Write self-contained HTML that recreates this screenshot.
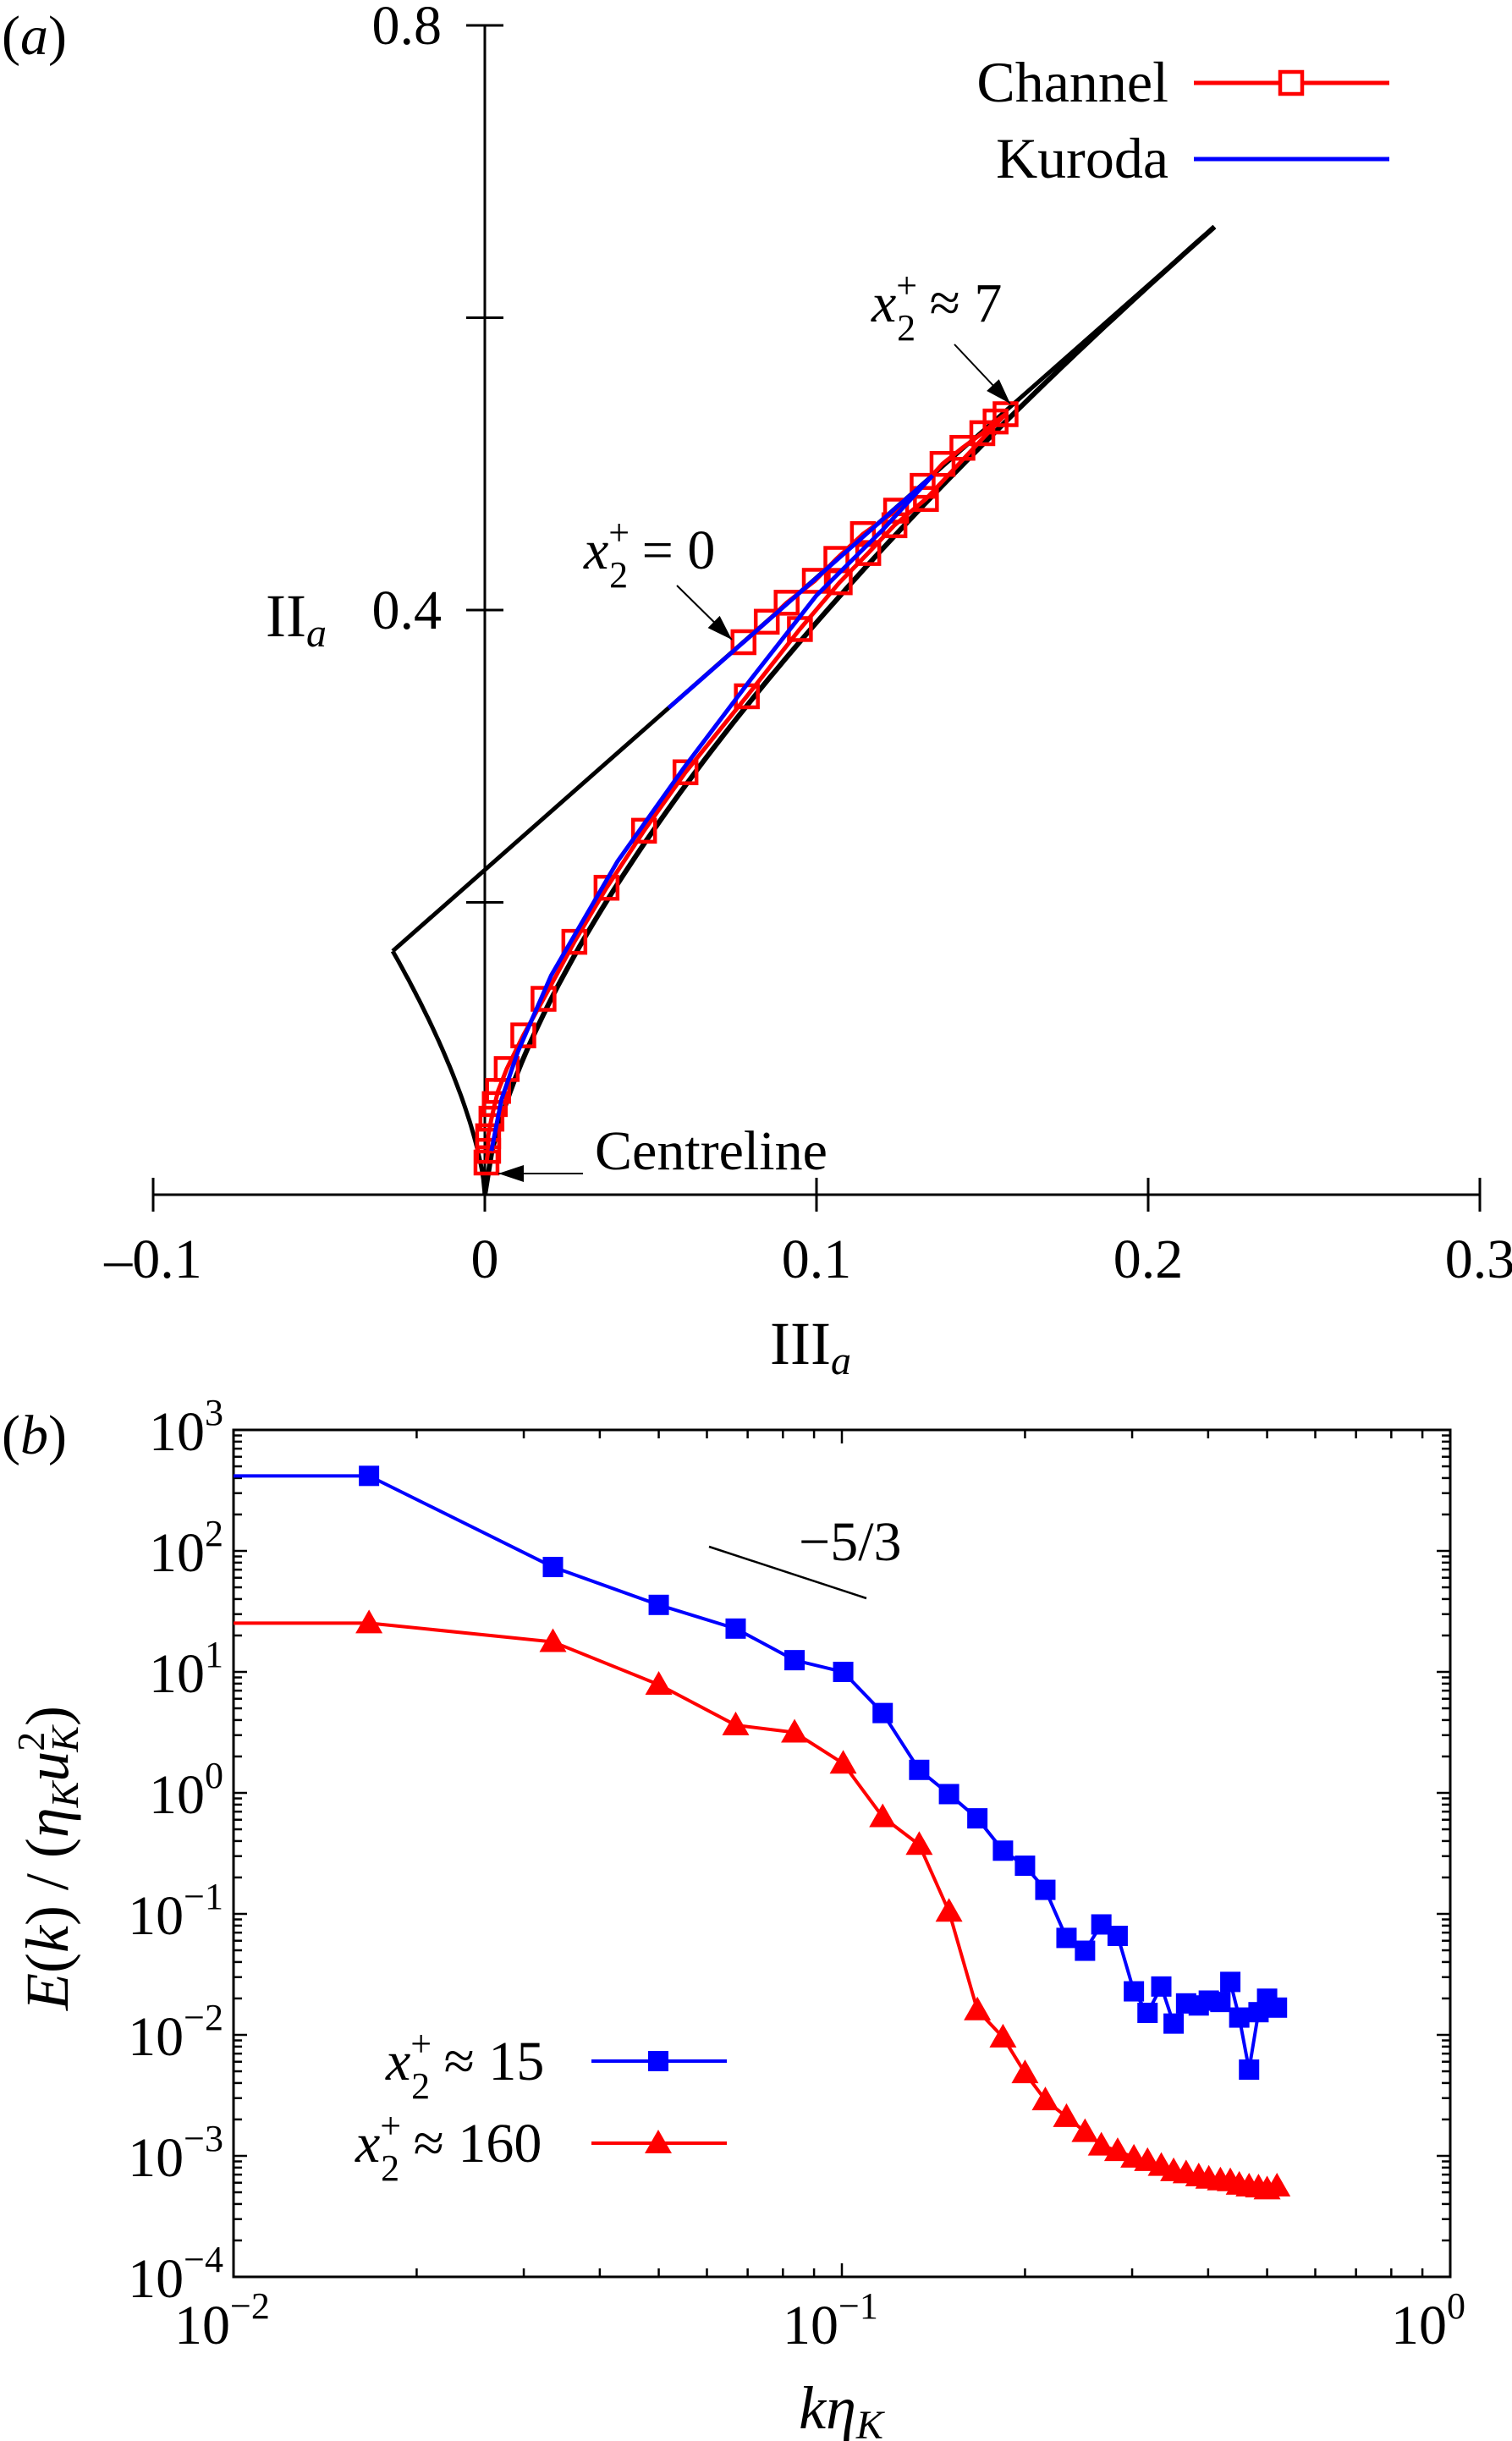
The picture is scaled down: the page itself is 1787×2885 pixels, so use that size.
<!DOCTYPE html>
<html><head><meta charset="utf-8"><style>
html,body{margin:0;padding:0;background:#fff}
svg{display:block;font-family:"Liberation Serif","Times New Roman",serif}
text{font-family:"Liberation Serif","Times New Roman",serif}
</style></head><body>
<svg id="fig" xmlns="http://www.w3.org/2000/svg" width="1787" height="2885" viewBox="0 0 1787 2885">
<rect width="1787" height="2885" fill="#fff"/>
<g id="pa"></g>
<g id="pb"></g>
</svg>
<script>
// ---------- Panel (a) data ----------
const chanIII = [0.078,0.085,0.091,0.0995,0.106,0.114,0.124,0.132,0.138,0.144,0.150,0.154,0.157,0.133,0.1235,0.1156,0.107,0.095,0.079,0.0605,0.048,0.0367,0.027,0.0177,0.0116,0.0066,0.004,0.003,0.002,0.001,0.001,0.0005];
const chanII  = [0.378,0.392,0.405,0.420,0.435,0.452,0.468,0.485,0.500,0.511,0.521,0.529,0.534,0.476,0.458,0.439,0.419,0.387,0.341,0.289,0.249,0.210,0.173,0.134,0.109,0.086,0.071,0.062,0.052,0.040,0.030,0.022];
const kurIII = [0.0554,0.08,0.1,0.12,0.135,0.12,0.1,0.08,0.06,0.04,0.02,0.01,0.005,0.002];
const kurII  = [0.333,0.382,0.422,0.462,0.492,0.455,0.41,0.352,0.292,0.228,0.15,0.098,0.065,0.03];
const aXTicks = [-0.1,0,0.1,0.2,0.3];
const aXLabels = ["\u20130.1","0","0.1","0.2","0.3"];
const aYTicks = [0.2,0.4,0.6,0.8];
// ---------- Panel (b) data ----------
const kVals = [0.0167,0.0335,0.050,0.0669,0.0836,0.1005,0.1167,0.134,0.150,0.167,0.184,0.200,0.216,0.234,0.251,0.267,0.284,0.302,0.318,0.335,0.351,0.368,0.386,0.401,0.419,0.435,0.450,0.467,0.484,0.500,0.519];
const e15 = [417,73.6,35.8,22.8,12.5,10.0,4.57,1.55,0.977,0.616,0.333,0.25,0.158,0.0633,0.0496,0.0818,0.0658,0.0229,0.0152,0.0251,0.0124,0.0182,0.0175,0.0192,0.0187,0.0274,0.0139,0.00516,0.0154,0.0199,0.0168];
const e160 = [25.3,17.7,7.85,3.63,3.16,1.75,0.632,0.373,0.1045,0.016,0.00955,0.00484,0.00289,0.0021,0.00158,0.00122,0.0011,0.00097,0.00091,0.00083,0.00075,0.00072,0.00068,0.00065,0.00063,0.00062,0.00058,0.00056,0.00055,0.00053,0.00056];
const bXExp = [-2,-1,0];
const bYExp = [3,2,1,0,-1,-2,-3,-4];

const NS="http://www.w3.org/2000/svg";
function mk(parent,tag,attrs,text){const e=document.createElementNS(NS,tag);for(const k in attrs)e.setAttribute(k,attrs[k]);if(text!==undefined)e.textContent=text;parent.appendChild(e);return e;}

// ================= Panel A =================
const pa=document.getElementById('pa');
const ax=v=>573+v*3920, ay=v=>1412-v*1727.5;
let e;
e=mk(pa,'line',{x1:ax(-0.1),y1:ay(0),x2:ax(0.3),y2:ay(0),stroke:'#000','stroke-width':3});

e=mk(pa,'line',{x1:ax(0),y1:ay(0),x2:ax(0),y2:ay(0.8),stroke:'#000','stroke-width':3});

aXTicks.forEach((t,i)=>{
  const l=mk(pa,'line',{x1:ax(t),y1:ay(0)-20,x2:ax(t),y2:ay(0)+20,stroke:'#000','stroke-width':3});
  
  const tx=mk(pa,'text',{x:ax(t),y:1510,'font-size':66,'text-anchor':'middle'},aXLabels[i]);
  
});
aYTicks.forEach(t=>{
  const l=mk(pa,'line',{x1:ax(0)-22,y1:ay(t),x2:ax(0)+22,y2:ay(t),stroke:'#000','stroke-width':3});
  
});
[[0.8,'0.8'],[0.4,'0.4']].forEach(([t,s])=>{
  const tx=mk(pa,'text',{x:522,y:ay(t)+22,'font-size':66,'text-anchor':'end'},s);
  
});
e=mk(pa,'text',{x:314,y:752,'font-size':72});

mk(e,'tspan',{},'II');mk(e,'tspan',{'font-style':'italic','font-size':48,dy:12},'a');
e=mk(pa,'text',{x:910,y:1612,'font-size':72});

mk(e,'tspan',{},'III');mk(e,'tspan',{'font-style':'italic','font-size':48,dy:12},'a');
e=mk(pa,'text',{x:2,y:64,'font-size':66});

mk(e,'tspan',{},'(');mk(e,'tspan',{'font-style':'italic'},'a');mk(e,'tspan',{},')');
let d='';
for(let i=0;i<=60;i++){const t=-1/36*i/60;const II=6*Math.pow(Math.abs(t)/6,2/3);d+=(i?'L':'M')+ax(t).toFixed(1)+','+ay(II).toFixed(1);}
e=mk(pa,'path',{d:d,fill:'none',stroke:'#000','stroke-width':5});

d='';
for(let i=0;i<=100;i++){const t=0.22*i/100;const II=6*Math.pow(t/6,2/3);d+=(i?'L':'M')+ax(t).toFixed(1)+','+ay(II).toFixed(1);}
e=mk(pa,'path',{d:d,fill:'none',stroke:'#000','stroke-width':6});

e=mk(pa,'line',{x1:ax(-1/36),y1:ay(1/6),x2:ax(0.22),y2:ay(2/9+0.44),stroke:'#000','stroke-width':5});

e=mk(pa,'polyline',{points:chanIII.map((v,i)=>ax(v)+','+ay(chanII[i])).join(' '),fill:'none',stroke:'#f00','stroke-width':5});

chanIII.forEach((v,i)=>{const s=mk(pa,'rect',{x:ax(v)-13,y:ay(chanII[i])-13,width:26,height:26,fill:'none',stroke:'#f00','stroke-width':4.5});
  });
e=mk(pa,'polyline',{points:kurIII.map((v,i)=>ax(v)+','+ay(kurII[i])).join(' '),fill:'none',stroke:'#00f','stroke-width':5});

function arrow(x1,y1,x2,y2,name){const g=mk(pa,'g',{});
  mk(g,'line',{x1:x1,y1:y1,x2:x2,y2:y2,stroke:'#000','stroke-width':2});
  const a=Math.atan2(y2-y1,x2-x1),L=30,W=10;
  const bx=x2-L*Math.cos(a),by=y2-L*Math.sin(a);
  mk(g,'polygon',{points:`${x2},${y2} ${bx-W*Math.sin(a)},${by+W*Math.cos(a)} ${bx+W*Math.sin(a)},${by-W*Math.cos(a)}`,fill:'#000'});}
arrow(1128,407,1194,477,'arrow-x2-7');
arrow(800,692,865,756,'arrow-x2-0');
arrow(689,1387,589,1387,'arrow-centreline');
function xlab(parent,x,y,rest,name){const t=mk(parent,'text',{x:x,y:y,'font-size':66});
  mk(t,'tspan',{'font-style':'italic'},'x');mk(t,'tspan',{'font-size':44,dy:-28},'+');mk(t,'tspan',{'font-size':44,dx:-24,dy:50},'2');mk(t,'tspan',{dy:-22},rest);return t;}
xlab(pa,1030,380,' \u2248 7','annotation-x2-7');
xlab(pa,690,672,' = 0','annotation-x2-0');
e=mk(pa,'text',{x:703,y:1382,'font-size':66},'Centreline');

e=mk(pa,'g',{});
mk(e,'text',{x:1381,y:120,'font-size':68,'text-anchor':'end'},'Channel');
mk(e,'line',{x1:1411,y1:98,x2:1642,y2:98,stroke:'#f00','stroke-width':5});
mk(e,'rect',{x:1513,y:85,width:26,height:26,fill:'#fff',stroke:'#f00','stroke-width':4.5});
e=mk(pa,'g',{});
mk(e,'text',{x:1381,y:210,'font-size':68,'text-anchor':'end'},'Kuroda');
mk(e,'line',{x1:1411,y1:188,x2:1642,y2:188,stroke:'#00f','stroke-width':5});

// ================= Panel B =================
const pb=document.getElementById('pb');
const L0=276,R0=1714,T0=1690,B0=2691;
const bx=k=>L0+(Math.log10(k)+2)*(R0-L0)/2, by=E=>T0+(3-Math.log10(E))*(B0-T0)/7;
e=mk(pb,'rect',{x:L0,y:T0,width:R0-L0,height:B0-T0,fill:'none',stroke:'#000','stroke-width':3});

for(let dcd=-2;dcd<0;dcd++){for(let m=1;m<10;m++){const k=m*Math.pow(10,dcd);const x=bx(k);const len=m===1?16:10;
  const t1=mk(pb,'line',{x1:x,y1:B0,x2:x,y2:B0-len,stroke:'#000','stroke-width':2.5});
  const t2=mk(pb,'line',{x1:x,y1:T0,x2:x,y2:T0+len,stroke:'#000','stroke-width':2.5});}}
bXExp.forEach(p=>{const t=mk(pb,'text',{x:bx(Math.pow(10,p))-70,y:2770,'font-size':66});
  
  mk(t,'tspan',{},'10');mk(t,'tspan',{'font-size':44,dy:-30},(p<0?'\u2212':'')+Math.abs(p));});
for(let dcd=-4;dcd<3;dcd++){for(let m=1;m<10;m++){const E=m*Math.pow(10,dcd);const y=by(E);const len=m===1?16:10;
  const t1=mk(pb,'line',{x1:L0,y1:y,x2:L0+len,y2:y,stroke:'#000','stroke-width':2.5});
  const t2=mk(pb,'line',{x1:R0,y1:y,x2:R0-len,y2:y,stroke:'#000','stroke-width':2.5});}}
bYExp.forEach(p=>{const t=mk(pb,'text',{x:264,y:by(Math.pow(10,p))+24,'font-size':66,'text-anchor':'end'});
  
  mk(t,'tspan',{},'10');
  mk(t,'tspan',{'font-size':44,dy:-30},(p<0?'\u2212':'')+Math.abs(p));});
e=mk(pb,'text',{x:994,y:2870,'font-size':72,'text-anchor':'middle'});

mk(e,'tspan',{'font-style':'italic'},'k\u03B7');mk(e,'tspan',{'font-style':'italic','font-size':48,dy:12},'K');
e=mk(pb,'text',{x:0,y:0,'font-size':72,'text-anchor':'middle',transform:'translate(80,2196) rotate(-90)'});

mk(e,'tspan',{'font-style':'italic'},'E');mk(e,'tspan',{},'(');mk(e,'tspan',{'font-style':'italic'},'k');mk(e,'tspan',{},') / (');
mk(e,'tspan',{'font-style':'italic'},'\u03B7');mk(e,'tspan',{'font-style':'italic','font-size':46,dy:12},'K');
mk(e,'tspan',{'font-style':'italic',dy:-12},'u');mk(e,'tspan',{'font-size':46,dy:-28},'2');mk(e,'tspan',{'font-style':'italic','font-size':46,dx:-24,dy:40},'K');mk(e,'tspan',{dy:-12},')');
e=mk(pb,'text',{x:2,y:1718,'font-size':66});

mk(e,'tspan',{},'(');mk(e,'tspan',{'font-style':'italic'},'b');mk(e,'tspan',{},')');
e=mk(pb,'line',{x1:838,y1:1828,x2:1024,y2:1889,stroke:'#000','stroke-width':2.5});

e=mk(pb,'text',{x:944,y:1844,'font-size':66},'\u22125/3');

function tri(g,x,y,c){return mk(g,'polygon',{points:`${x},${y-16} ${x-16},${y+12} ${x+16},${y+12}`,fill:c});}
e=mk(pb,'polyline',{points:[L0+','+by(e15[0])].concat(kVals.map((k,i)=>bx(k)+','+by(e15[i]))).join(' '),fill:'none',stroke:'#00f','stroke-width':4});

kVals.forEach((k,i)=>{const s=mk(pb,'rect',{x:bx(k)-12,y:by(e15[i])-12,width:24,height:24,fill:'#00f'});
  });
e=mk(pb,'polyline',{points:[L0+','+by(e160[0])].concat(kVals.map((k,i)=>bx(k)+','+by(e160[i]))).join(' '),fill:'none',stroke:'#f00','stroke-width':4});

kVals.forEach((k,i)=>{const s=tri(pb,bx(k),by(e160[i]),'#f00');
  });
e=mk(pb,'g',{});
xlab(e,456,2458,' \u2248 15','legend-label-x2-15');
mk(e,'line',{x1:699,y1:2436,x2:859,y2:2436,stroke:'#00f','stroke-width':4});
mk(e,'rect',{x:766,y:2424,width:24,height:24,fill:'#00f'});
e=mk(pb,'g',{});
xlab(e,420,2555,' \u2248 160','legend-label-x2-160');
mk(e,'line',{x1:699,y1:2533,x2:859,y2:2533,stroke:'#f00','stroke-width':4});
tri(e,778,2533,'#f00');
</script>
</body></html>
